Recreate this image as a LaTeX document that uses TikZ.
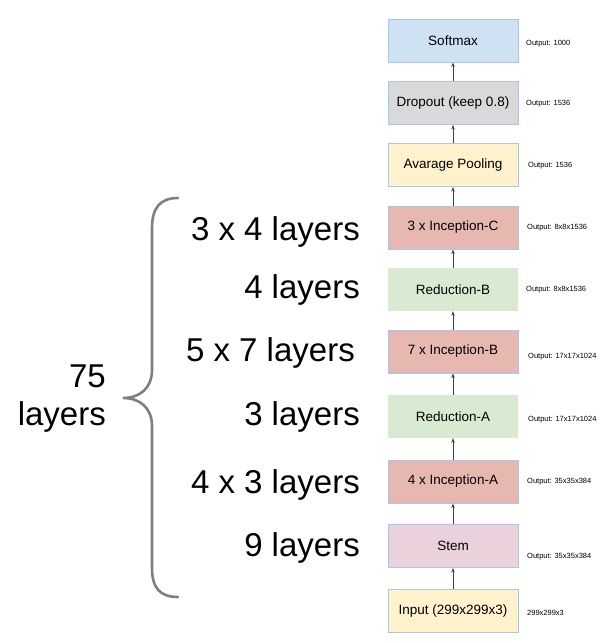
\documentclass[tikz,border=0pt]{standalone}
\usepackage{fontspec}
\setmainfont{Liberation Sans}
\usetikzlibrary{positioning,arrows.meta}

\definecolor{edgeblue}{HTML}{A9C4EE}
\definecolor{softblue}{HTML}{CFE2F3}
\definecolor{dropgray}{HTML}{D9D9D9}
\definecolor{paleyellow}{HTML}{FFF2CC}
\definecolor{incred}{HTML}{E6B8AF}
\definecolor{redgreen}{HTML}{D9EAD3}
\definecolor{stempink}{HTML}{EAD1DC}
\definecolor{bracegray}{HTML}{7F7F7F}

\tikzset{
    layerbox/.style={rectangle, minimum width=130pt, minimum height=43pt,
        inner sep=0pt, font=\fontsize{13.5}{15}\selectfont},
    framed/.style={layerbox, draw=edgeblue, line width=1pt},
    outlabel/.style={anchor=west, inner sep=0pt, font=\fontsize{7.5}{8}\selectfont},
    countlabel/.style={anchor=east, inner sep=0pt, font=\fontsize{33}{38}\selectfont},
    flow/.style={-{Stealth[length=4.5pt,width=3.5pt]}, line width=0.9pt, black!75}
}

\begin{document}
\begin{tikzpicture}[x=1pt, y=-1pt]
    \useasboundingbox (0,0) rectangle (608,643);

    % Network blocks, bottom to top
    \node[framed, fill=paleyellow] (input) at (453,611) {Input (299x299x3)};
    \node[framed, fill=stempink] (stem) at (453,546) {Stem};
    \node[framed, fill=incred] (inca) at (453,481.5) {4 x Inception-A};
    \node[layerbox, fill=redgreen] (reda) at (453,416.5) {Reduction-A};
    \node[framed, fill=incred] (incb) at (453,351.5) {7 x Inception-B};
    \node[layerbox, fill=redgreen] (redb) at (453,289.5) {Reduction-B};
    \node[framed, fill=incred] (incc) at (453,227.5) {3 x Inception-C};
    \node[framed, fill=paleyellow] (pool) at (453,165) {Avarage Pooling};
    \node[framed, fill=dropgray] (drop) at (453,103) {Dropout (keep 0.8)};
    \node[framed, fill=softblue] (soft) at (453,40.5) {Softmax};

    % Arrows between blocks
    \draw[flow] (input) -- (stem);
    \draw[flow] (stem) -- (inca);
    \draw[flow] (inca) -- (reda);
    \draw[flow] (reda) -- (incb);
    \draw[flow] (incb) -- (redb);
    \draw[flow] (redb) -- (incc);
    \draw[flow] (incc) -- (pool);
    \draw[flow] (pool) -- (drop);
    \draw[flow] (drop) -- (soft);

    % Output sizes
    \node[outlabel] (outin) at (527,613) {299x299x3};
    \node[outlabel] (outstem) at (527,557) {Output: 35x35x384};
    \node[outlabel] (outinca) at (527,482) {Output: 35x35x384};
    \node[outlabel] (outreda) at (528,419.5) {Output: 17x17x1024};
    \node[outlabel] (outincb) at (528,357) {Output: 17x17x1024};
    \node[outlabel] (outredb) at (526,290) {Output: 8x8x1536};
    \node[outlabel] (outincc) at (527,228) {Output: 8x8x1536};
    \node[outlabel] (outpool) at (528,166) {Output: 1536};
    \node[outlabel] (outdrop) at (526,104) {Output: 1536};
    \node[outlabel] (outsoft) at (526,44) {Output: 1000};

    % Layer counts
    \node[countlabel] (cntc) at (360,232) {3 x 4 layers};
    \node[countlabel] (cntrb) at (360,290) {4 layers};
    \node[countlabel] (cntb) at (355,353) {5 x 7 layers};
    \node[countlabel] (cntra) at (360,417) {3 layers};
    \node[countlabel] (cnta) at (360,485) {4 x 3 layers};
    \node[countlabel] (cntstem) at (360,548) {9 layers};

    % Brace and total
    \coordinate (bracetop) at (178,198);
    \coordinate (bracetip) at (123,398);
    \coordinate (bracebot) at (178,597);
    \draw[bracegray, line width=2.6pt, line cap=round]
        (bracetop) .. controls (160,198) and (152,208) .. (152,228)
        -- (152,370) .. controls (152,388) and (140,398) .. (bracetip)
        .. controls (140,398) and (152,408) .. (152,426)
        -- (152,568) .. controls (152,588) and (160,597) .. (bracebot);
    \node[countlabel, align=right] (total) at (106,399) {75\\layers};
\end{tikzpicture}
\end{document}
